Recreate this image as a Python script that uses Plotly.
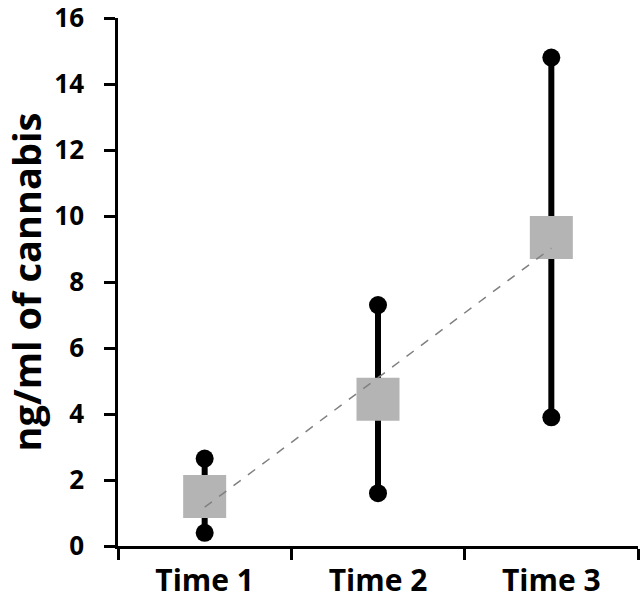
import numpy as np
import plotly.graph_objects as go

categories = ["Time 1", "Time 2", "Time 3"]
high_vals = [2.65, 7.3, 14.8]
low_vals = [0.4, 1.6, 3.9]
mean_vals = [1.5, 4.45, 9.35]
y_tick_vals = [0, 2, 4, 6, 8, 10, 12, 14, 16]

font_family = "Open Sans, Liberation Sans, sans-serif"

fig = go.Figure()

# vertical range lines
for c, lo, hi in zip(categories, low_vals, high_vals):
    fig.add_trace(go.Scatter(x=[c, c], y=[lo, hi], mode="lines",
                             line=dict(color="black", width=6),
                             showlegend=False, hoverinfo="skip"))

# mean squares
fig.add_trace(go.Scatter(x=categories, y=mean_vals, mode="markers",
                         marker=dict(symbol="square", size=43, color="#b4b4b4",
                                     line=dict(width=0)),
                         showlegend=False))

# high / low dots
fig.add_trace(go.Scatter(x=categories + categories, y=high_vals + low_vals, mode="markers",
                         marker=dict(symbol="circle", size=18, color="black"),
                         showlegend=False))

# linear trendline of means
xi = np.arange(1, len(categories) + 1)
slope, intercept = np.polyfit(xi, mean_vals, 1)
trend = slope * xi + intercept
fig.add_trace(go.Scatter(x=categories, y=trend, mode="lines",
                         line=dict(color="#808080", width=1.5, dash="dash"),
                         showlegend=False, hoverinfo="skip"))

fig.update_layout(
    width=644, height=608,
    margin=dict(l=118, r=6, t=18, b=62),
    paper_bgcolor="white", plot_bgcolor="white",
    font=dict(family=font_family, color="black"),
    xaxis=dict(type="category", categoryorder="array", categoryarray=categories,
               range=[-0.5, 2.5], showgrid=False, zeroline=False, automargin=False,
               showline=True, linecolor="black", linewidth=2.5,
               ticks="outside", tickson="boundaries", ticklen=11, tickwidth=2.5,
               tickcolor="black", ticklabelstandoff=6, ticklabeloverflow="allow",
               tickfont=dict(size=30, family=font_family, color="black", weight="bold")),
    yaxis=dict(range=[0, 16], tickvals=y_tick_vals, showgrid=False, zeroline=False,
               automargin=False,
               showline=True, linecolor="black", linewidth=2.5,
               ticks="outside", ticklen=11, tickwidth=2.5, tickcolor="black",
               ticklabelstandoff=15, ticklabeloverflow="allow",
               tickfont=dict(size=26, family=font_family, color="black", weight="bold"),
               title=dict(text="ng/ml of cannabis", standoff=11,
                          font=dict(size=38, family=font_family, color="black", weight="bold"))),
)

fig.write_html("out.html",
               config={"displayModeBar": False},
               post_script="document.body.style.margin='0';document.body.style.overflow='hidden';")
